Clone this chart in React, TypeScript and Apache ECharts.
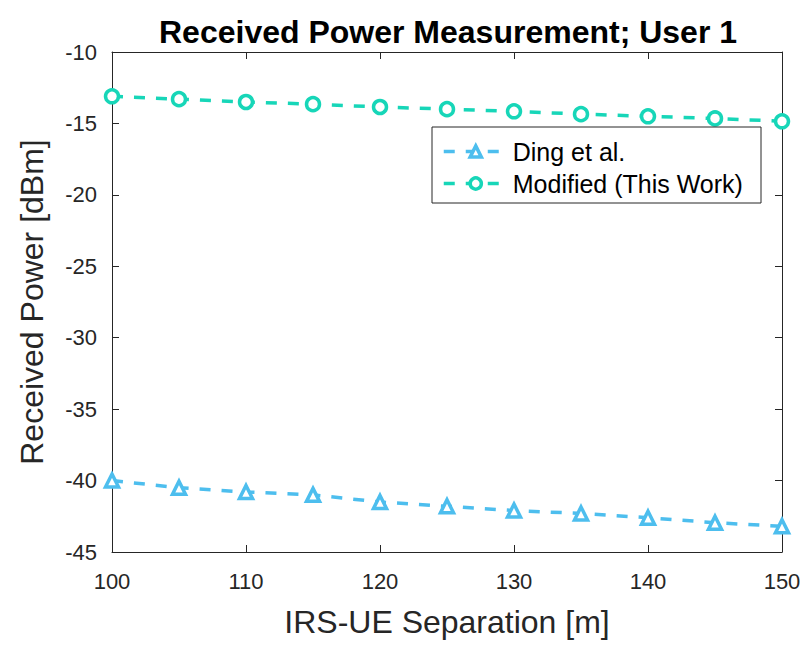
import React, { useEffect, useRef } from "react";
import * as echarts from "echarts";

const separations = [100, 105, 110, 115, 120, 125, 130, 135, 140, 145, 150];
const dingPower = [-40.0, -40.5, -40.8, -41.0, -41.5, -41.8, -42.1, -42.3, -42.6, -42.95, -43.2];
const modifiedPower = [-13.1, -13.3, -13.5, -13.65, -13.85, -14.0, -14.15, -14.35, -14.5, -14.65, -14.85];
const seriesNames = ["Ding et al.", "Modified (This Work)"];

const FONT = "Liberation Sans, Arial, Helvetica, sans-serif";
const AXIS_COLOR = "#262626";
const DING_COLOR = "#4DBEEE";
const MOD_COLOR = "#17D6B8";

export default function App() {
  const ref = useRef<HTMLDivElement>(null);
  useEffect(() => {
    if (!ref.current) return;
    const chart = echarts.init(ref.current, undefined, { renderer: "svg" });
    const axisLine = { show: true, lineStyle: { color: AXIS_COLOR, width: 1 } };
    const axisTick = { show: true, inside: true, length: 7, lineStyle: { color: AXIS_COLOR } };
    chart.setOption({
      animation: false,
      backgroundColor: "#ffffff",
      title: {
        text: "Received Power Measurement; User 1",
        left: 443,
        textAlign: "center",
        top: 11,
        textStyle: { fontFamily: FONT, fontSize: 32, fontWeight: "bold", color: "#000" },
      },
      graphic: [
        {
          type: "rect",
          shape: { x: 432, y: 127, width: 329, height: 76 },
          style: { fill: "#ffffff", stroke: AXIS_COLOR, lineWidth: 1 },
          z: 5,
        },
      ],
      legend: {
        orient: "vertical",
        left: 442,
        top: 139,
        padding: 0,
        itemGap: 7,
        itemWidth: 64,
        itemHeight: 14,
        z: 10,
        lineStyle: { width: 3.5 },
        itemStyle: { borderWidth: 3.5 },
        textStyle: { fontFamily: FONT, fontSize: 25, color: "#000" },
        data: seriesNames,
      },
      grid: { left: 112, right: 29, top: 52, bottom: 98, containLabel: false },
      xAxis: [
        {
          type: "value",
          min: 100,
          max: 150,
          interval: 10,
          position: "bottom",
          axisLine,
          axisTick,
          splitLine: { show: false },
          axisLabel: { fontFamily: FONT, fontSize: 22, color: AXIS_COLOR, margin: 18 },
          name: "IRS-UE Separation [m]",
          nameLocation: "middle",
          nameGap: 54,
          nameTextStyle: { fontFamily: FONT, fontSize: 32, color: AXIS_COLOR },
        },
        {
          type: "value",
          min: 100,
          max: 150,
          interval: 10,
          position: "top",
          axisLine,
          axisTick,
          splitLine: { show: false },
          axisLabel: { show: false },
        },
      ],
      yAxis: [
        {
          type: "value",
          min: -45,
          max: -10,
          interval: 5,
          position: "left",
          axisLine,
          axisTick,
          splitLine: { show: false },
          axisLabel: { fontFamily: FONT, fontSize: 22, color: AXIS_COLOR, margin: 15 },
          name: "Received Power [dBm]",
          nameLocation: "middle",
          nameGap: 64,
          nameTextStyle: { fontFamily: FONT, fontSize: 32, color: AXIS_COLOR },
        },
        {
          type: "value",
          min: -45,
          max: -10,
          interval: 5,
          position: "right",
          axisLine,
          axisTick,
          splitLine: { show: false },
          axisLabel: { show: false },
        },
      ],
      series: [
        {
          name: seriesNames[0],
          type: "line",
          data: separations.map((x, i) => [x, dingPower[i]]),
          symbol: "triangle",
          symbolSize: 13,
          color: DING_COLOR,
          lineStyle: { width: 3.5, type: [11, 11], color: DING_COLOR },
          itemStyle: { color: "#ffffff", borderColor: DING_COLOR, borderWidth: 3.5 },
        },
        {
          name: seriesNames[1],
          type: "line",
          data: separations.map((x, i) => [x, modifiedPower[i]]),
          symbol: "circle",
          symbolSize: 13,
          color: MOD_COLOR,
          lineStyle: { width: 3.5, type: [11, 11], color: MOD_COLOR },
          itemStyle: { color: "#ffffff", borderColor: MOD_COLOR, borderWidth: 3.5 },
        },
      ],
    });
    return () => chart.dispose();
  }, []);
  return (
    <div
      ref={ref}
      style={{ position: "absolute", left: 0, top: 0, width: 811, height: 650 }}
    />
  );
}
